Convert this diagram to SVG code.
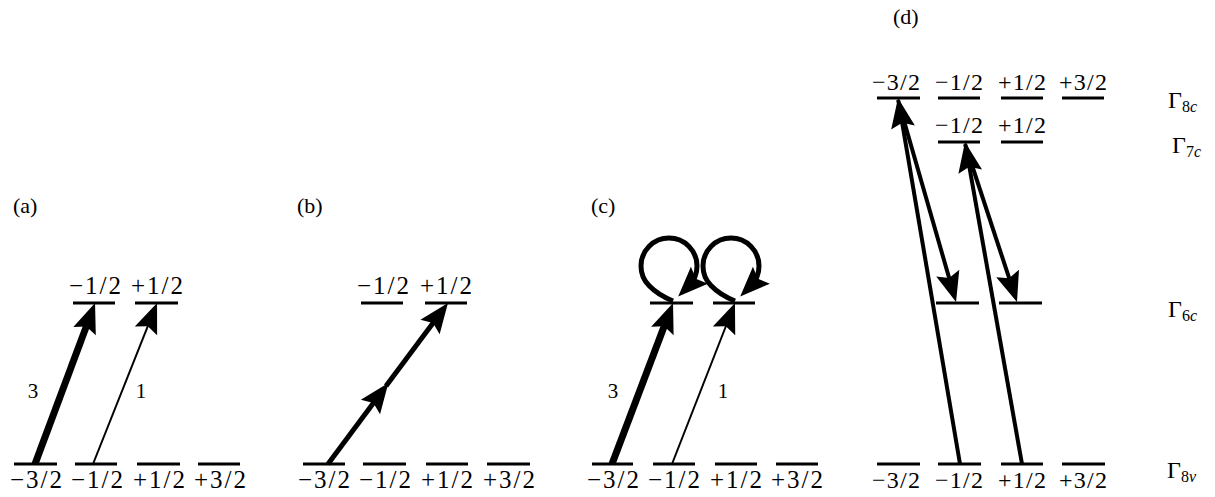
<svg xmlns="http://www.w3.org/2000/svg" width="1215" height="497" viewBox="0 0 1215 497">
<style>
  .lvl { stroke:#000; stroke-width:3; fill:none; }
  .t { font-family:"Liberation Serif","Times New Roman",serif; fill:#000; }
  .lab { font-size:25px; text-anchor:middle; }
  .labd { font-size:24px; text-anchor:middle; }
  .pan { font-size:22px; }
  .num { font-size:21px; text-anchor:middle; }
  .gam { font-size:24px; }
  .sub { font-size:16px; }
  .arr { stroke:#000; fill:none; marker-end:url(#ah); }
</style>
<defs>
  <marker id="ah" markerUnits="userSpaceOnUse" viewBox="-16 -13 32 26" markerWidth="32" markerHeight="26" refX="0" refY="0" orient="auto" overflow="visible">
    <path d="M15,0 L-15,-12 L-10,0 L-15,12 Z" fill="#000"/>
  </marker>
</defs>
<rect width="1215" height="497" fill="#fff"/>

<g id="panel-a">
  <text class="t pan" x="13" y="213">(a)</text>
  <line class="lvl" x1="14" y1="464" x2="57" y2="464"/>
  <line class="lvl" x1="75" y1="464" x2="117" y2="464"/>
  <line class="lvl" x1="137" y1="464" x2="180" y2="464"/>
  <line class="lvl" x1="198" y1="464" x2="240" y2="464"/>
  <line class="lvl" x1="73" y1="303" x2="115" y2="303"/>
  <line class="lvl" x1="135" y1="303" x2="178" y2="303"/>
  <text class="t lab" x="36" y="488" textLength="52">−3/2</text>
  <text class="t lab" x="97" y="488" textLength="52">−1/2</text>
  <text class="t lab" x="159" y="488" textLength="52">+1/2</text>
  <text class="t lab" x="220" y="488" textLength="52">+3/2</text>
  <text class="t lab" x="95" y="294" textLength="52">−1/2</text>
  <text class="t lab" x="157" y="294" textLength="52">+1/2</text>
  <text class="t num" x="33" y="398">3</text>
  <text class="t num" x="141" y="398">1</text>
</g>

<g id="panel-b">
  <text class="t pan" x="297" y="213">(b)</text>
  <line class="lvl" x1="303" y1="464" x2="345" y2="464"/>
  <line class="lvl" x1="363" y1="464" x2="406" y2="464"/>
  <line class="lvl" x1="426" y1="464" x2="468" y2="464"/>
  <line class="lvl" x1="487" y1="464" x2="530" y2="464"/>
  <line class="lvl" x1="361" y1="303" x2="403" y2="303"/>
  <line class="lvl" x1="425" y1="303" x2="467" y2="303"/>
  <text class="t lab" x="324" y="488" textLength="52">−3/2</text>
  <text class="t lab" x="385" y="488" textLength="52">−1/2</text>
  <text class="t lab" x="447" y="488" textLength="52">+1/2</text>
  <text class="t lab" x="509" y="488" textLength="52">+3/2</text>
  <text class="t lab" x="383" y="294" textLength="52">−1/2</text>
  <text class="t lab" x="446" y="294" textLength="52">+1/2</text>
</g>

<g id="panel-c">
  <text class="t pan" x="591" y="213">(c)</text>
  <line class="lvl" x1="592" y1="464" x2="633" y2="464"/>
  <line class="lvl" x1="653" y1="464" x2="695" y2="464"/>
  <line class="lvl" x1="715" y1="464" x2="757" y2="464"/>
  <line class="lvl" x1="776" y1="464" x2="818" y2="464"/>
  <line class="lvl" x1="650" y1="303" x2="693" y2="303"/>
  <line class="lvl" x1="713" y1="303" x2="755" y2="303"/>
  <text class="t lab" x="613" y="488" textLength="52">−3/2</text>
  <text class="t lab" x="674" y="488" textLength="52">−1/2</text>
  <text class="t lab" x="736" y="488" textLength="52">+1/2</text>
  <text class="t lab" x="797" y="488" textLength="52">+3/2</text>
  <text class="t num" x="613" y="398">3</text>
  <text class="t num" x="723" y="398">1</text>
</g>

<g id="panel-d">
  <text class="t pan" x="893" y="24">(d)</text>
  <line class="lvl" x1="877" y1="98" x2="920" y2="98"/>
  <line class="lvl" x1="938" y1="98" x2="980" y2="98"/>
  <line class="lvl" x1="1001" y1="98" x2="1043" y2="98"/>
  <line class="lvl" x1="1062" y1="98" x2="1104" y2="98"/>
  <line class="lvl" x1="938" y1="142" x2="980" y2="142"/>
  <line class="lvl" x1="1001" y1="142" x2="1043" y2="142"/>
  <line class="lvl" x1="936" y1="303" x2="979" y2="303"/>
  <line class="lvl" x1="999" y1="303" x2="1042" y2="303"/>
  <line class="lvl" x1="877" y1="464" x2="920" y2="464"/>
  <line class="lvl" x1="938" y1="464" x2="981" y2="464"/>
  <line class="lvl" x1="1001" y1="464" x2="1043" y2="464"/>
  <line class="lvl" x1="1062" y1="464" x2="1105" y2="464"/>
  <text class="t labd" x="896" y="90" textLength="48">−3/2</text>
  <text class="t labd" x="959" y="90" textLength="48">−1/2</text>
  <text class="t labd" x="1022" y="90" textLength="48">+1/2</text>
  <text class="t labd" x="1083" y="90" textLength="48">+3/2</text>
  <text class="t labd" x="959" y="133" textLength="48">−1/2</text>
  <text class="t labd" x="1022" y="133" textLength="48">+1/2</text>
  <text class="t labd" x="896" y="488" textLength="48">−3/2</text>
  <text class="t labd" x="959" y="488" textLength="48">−1/2</text>
  <text class="t labd" x="1022" y="488" textLength="48">+1/2</text>
  <text class="t labd" x="1083" y="488" textLength="48">+3/2</text>
  <text class="t gam" x="1168" y="108">Γ<tspan class="sub" dy="4">8<tspan font-style="italic">c</tspan></tspan></text>
  <text class="t gam" x="1172" y="153">Γ<tspan class="sub" dy="4">7<tspan font-style="italic">c</tspan></tspan></text>
  <text class="t gam" x="1168" y="317">Γ<tspan class="sub" dy="4">6<tspan font-style="italic">c</tspan></tspan></text>
  <text class="t gam" x="1167" y="478">Γ<tspan class="sub" dy="4">8<tspan font-style="italic">v</tspan></tspan></text>
</g>

<g id="connectors">
  <line class="arr" stroke-width="7" x1="35" y1="464" x2="89.8" y2="317.1"/>
  <line class="arr" stroke-width="2" x1="93" y1="464" x2="151.5" y2="316.9"/>
  <line class="arr" stroke-width="5" x1="328" y1="464" x2="379.4" y2="395.0"/>
  <line class="arr" stroke-width="5" x1="386" y1="386" x2="439.0" y2="315.0"/>
  <line class="arr" stroke-width="7" x1="612" y1="464" x2="667.7" y2="317.0"/>
  <line class="arr" stroke-width="2" x1="672" y1="464" x2="729.5" y2="317.0"/>
  <path class="arr" stroke-width="5" d="M673,301 Q658,295 649.2,285.8 A28,28 0 1 1 688.8,285.8"/>
  <path class="arr" stroke-width="5" d="M735,301 Q720,295 711.2,285.8 A28,28 0 1 1 750.8,285.8"/>
  <line class="arr" stroke-width="4" x1="960" y1="464" x2="900.5" y2="112.8"/>
  <line class="arr" stroke-width="4" x1="898" y1="100" x2="951.9" y2="287.6"/>
  <line class="arr" stroke-width="4" x1="1022" y1="464" x2="967.6" y2="156.8"/>
  <line class="arr" stroke-width="4" x1="965" y1="144" x2="1012.3" y2="287.7"/>
</g>
</svg>
